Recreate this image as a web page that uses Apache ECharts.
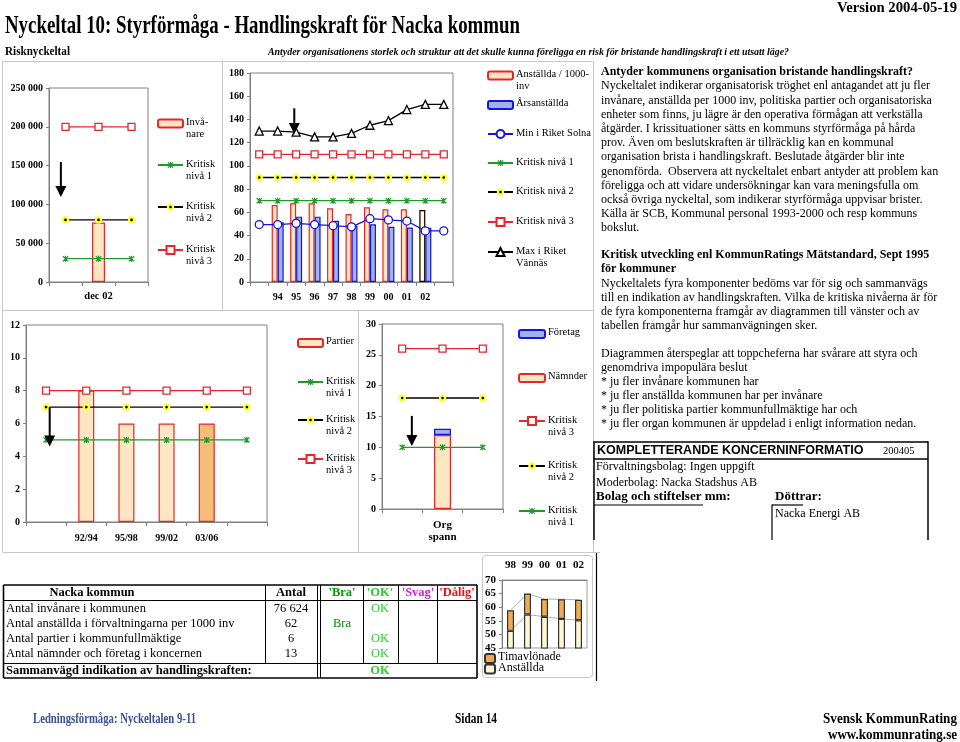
<!DOCTYPE html>
<html><head><meta charset="utf-8">
<script src="https://cdn.jsdelivr.net/npm/echarts@6/dist/echarts.min.js"></script>
<style>html,body{margin:0;padding:0;background:#fff}#c{width:960px;height:742px}</style>
</head><body><div id="c"></div>
<script>
// ================= DATA =================
// Chart 1: Invånare
const c1Categories = ['', 'dec 02', ''];
const c1Invanare = [null, 76624, null];
const c1Niva1 = [30000, 30000, 30000];
const c1Niva2 = [80000, 80000, 80000];
const c1Niva3 = [200000, 200000, 200000];
const c1Arrow = [0, 154600, 109500];

// Chart 2: Anställda per 1000 inv
const c2Categories = ['', '94', '95', '96', '97', '98', '99', '00', '01', '02', ''];
const c2Anst1000 = [null, 66.3, 67.8, 67.8, 63.5, 58.6, 64.3, 62.6, 62.6, 62, null];
const c2Arsanst = [null, 51.4, 56.3, 56.3, 52.8, 48.5, 49.7, 47.6, 47, 46.8, null];
const c2MinSolna = [49.5, 49.5, 50.5, 49.5, 48.5, 47.5, 54.5, 53.5, 52.5, 44, 44];
const c2MaxVannas = [130, 130, 129, 125, 125, 128, 135, 139, 148.5, 153, 153];
const c2Niva1 = [70, 70, 70, 70, 70, 70, 70, 70, 70, 70, 70];
const c2Niva2 = [90, 90, 90, 90, 90, 90, 90, 90, 90, 90, 90];
const c2Niva3 = [110, 110, 110, 110, 110, 110, 110, 110, 110, 110, 110];
const c2HighlightIndex = 9;
const c2Arrow = [2, 149.6, 127.5];

// Chart 3: Partier
const c3Categories = ['', '92/94', '95/98', '99/02', '03/06', ''];
const c3Partier = [null, 8, 6, 6, 6, null];
const c3Niva1 = [5, 5, 5, 5, 5, 5];
const c3Niva2 = [7, 7, 7, 7, 7, 7];
const c3Niva3 = [8, 8, 8, 8, 8, 8];
const c3HighlightIndex = 4;
const c3Arrow = [0, 7, 4.6];

// Chart 4: Org spann
const c4Categories = ['', 'Org\nspann', ''];
const c4Namnder = [null, 12, null];
const c4Foretag = [null, 1, null];
const c4Niva1 = [10, 10, 10];
const c4Niva2 = [18, 18, 18];
const c4Niva3 = [26, 26, 26];
const c4Arrow = [0, 15.1, 10.2];

// Chart 5: Anställda / Timavlönade
const c5Categories = ['98', '99', '00', '01', '02'];
const c5Anstallda = [51.3, 57.3, 56.5, 55.7, 55.2];
const c5Timavlonade = [7.6, 7.7, 6.5, 7.2, 7.5];

// Table
const tableHeader = ['Nacka kommun', 'Antal', "'Bra'", "'OK'", "'Svag'", "'Dålig'"];
const tableRows = [
  ['Antal invånare i kommunen', '76 624', 'OK'],
  ['Antal anställda i förvaltningarna per 1000 inv', '62', 'Bra'],
  ['Antal partier i kommunfullmäktige', '6', 'OK'],
  ['Antal nämnder och företag i koncernen', '13', 'OK']
];
const tableSummary = ['Sammanvägd indikation av handlingskraften:', 'OK'];

// Text
const textLines = [
  ['Antyder kommunens organisation bristande handlingskraft?', true],
  ['Nyckeltalet indikerar organisatorisk tröghet enl antagandet att ju fler', false],
  ['invånare, anställda per 1000 inv, politiska partier och organisatoriska', false],
  ['enheter som finns, ju lägre är den operativa förmågan att verkställa', false],
  ['åtgärder. I krissituationer sätts en kommuns styrförmåga på hårda', false],
  ['prov. Även om beslutskraften är tillräcklig kan en kommunal', false],
  ['organisation brista i handlingskraft. Beslutade åtgärder blir inte', false],
  ['genomförda.  Observera att nyckeltalet enbart antyder att problem kan', false],
  ['föreligga och att vidare undersökningar kan vara meningsfulla om', false],
  ['också övriga nyckeltal, som indikerar styrförmåga uppvisar brister.', false],
  ['Källa är SCB, Kommunal personal 1993-2000 och resp kommuns', false],
  ['bokslut.', false]
];
const textLines2 = [
  ['Kritisk utveckling enl KommunRatings Mätstandard, Sept 1995', true],
  ['för kommuner', true],
  ['Nyckeltalets fyra komponenter bedöms var för sig och sammanvägs', false],
  ['till en indikation av handlingskraften. Vilka de kritiska nivåerna är för', false],
  ['de fyra komponenterna framgår av diagrammen till vänster och av', false],
  ['tabellen framgår hur sammanvägningen sker.', false]
];
const textLines3 = [
  'Diagrammen återspeglar att toppcheferna har svårare att styra och',
  'genomdriva impopulära beslut',
  '* ju fler invånare kommunen har',
  '* ju fler anställda kommunen har per invånare',
  '* ju fler politiska partier kommunfullmäktige har och',
  '* ju fler organ kommunen är uppdelad i enligt information nedan.'
];

// ================= STYLE =================
const FONT = "'Liberation Serif', 'Times New Roman', serif";
const RED = '#e8262a', GREEN = '#1f9a2a', BLUE = '#1414dc', PEACH = '#fde6c2', ORANGE = '#f5bd78';
function svgUri(svg) { return 'image://data:image/svg+xml;charset=utf-8,' + encodeURIComponent(svg); }
const SYM_STAR = svgUri("<svg xmlns='http://www.w3.org/2000/svg' width='20' height='20' viewBox='0 0 20 20'><path d='M3.5 3.5L16.5 16.5M16.5 3.5L3.5 16.5M10 2.5V17.5' stroke='#1f9a2a' stroke-width='3' fill='none'/></svg>");
const SYM_YDOT = svgUri("<svg xmlns='http://www.w3.org/2000/svg' width='20' height='20' viewBox='0 0 20 20'><circle cx='10' cy='10' r='9.5' fill='#ffff3c'/><circle cx='10' cy='10' r='3.3' fill='#000'/></svg>");

const NIVA = {
  'Kritisk nivå 1': { symbol: SYM_STAR, color: GREEN, size: 8 },
  'Kritisk nivå 2': { symbol: SYM_YDOT, color: '#000', size: 8 },
  'Kritisk nivå 3': { symbol: 'rect', color: RED, size: 7, fill: '#fff' }
};

function lineS(name, idx, data, st) {
  return {
    type: 'line', name, xAxisIndex: idx, yAxisIndex: idx, data,
    symbol: st.symbol, symbolSize: st.size, showSymbol: true, showAllSymbol: true,
    lineStyle: { color: st.color, width: 1.3 },
    itemStyle: { color: st.fill || st.color, borderColor: st.color, borderWidth: 1.3 },
    emphasis: { disabled: true }, z: 3, silent: true
  };
}
function niva(level, idx, data) { return lineS('Kritisk nivå ' + level, idx, data, NIVA['Kritisk nivå ' + level]); }
function barS(name, idx, data, fill, border, extra) {
  return Object.assign({
    type: 'bar', name, xAxisIndex: idx, yAxisIndex: idx, data,
    itemStyle: { color: fill, borderColor: border, borderWidth: 1.2 },
    emphasis: { disabled: true }, silent: true, z: 2
  }, extra || {});
}
function arrowS(idx, arr, offFrac) {
  return {
    type: 'custom', xAxisIndex: idx, yAxisIndex: idx, silent: true, z: 6,
    data: [arr], encode: { x: 0, y: [1, 2] },
    renderItem(params, api) {
      const band = api.size([1, 0])[0];
      const p1 = api.coord([api.value(0), api.value(1)]);
      const p2 = api.coord([api.value(0), api.value(2)]);
      const x = p1[0] + offFrac * band;
      const hh = 11, hw = 5.5;
      return { type: 'group', children: [
        { type: 'line', shape: { x1: x, y1: p1[1], x2: x, y2: p2[1] - hh + 1 }, style: { stroke: '#000', lineWidth: 2 } },
        { type: 'polygon', shape: { points: [[x - hw, p2[1] - hh], [x + hw, p2[1] - hh], [x, p2[1]]] }, style: { fill: '#000' } }
      ] };
    }
  };
}
const labelFont = { fontFamily: FONT, fontWeight: 'bold', fontSize: 10, color: '#000' };
function catAxis(idx, data, extra) {
  return Object.assign({
    type: 'category', gridIndex: idx, data, boundaryGap: true,
    axisLine: { show: true, lineStyle: { color: '#808080' } },
    axisTick: { show: true, interval: 0, length: 4, lineStyle: { color: '#808080' } },
    axisLabel: Object.assign({ interval: 0, margin: 8 }, labelFont),
    splitLine: { show: false }
  }, extra || {});
}
function valAxis(idx, min, max, interval, extra) {
  return Object.assign({
    type: 'value', gridIndex: idx, min, max, interval,
    axisLine: { show: true, lineStyle: { color: '#808080' } },
    axisTick: { show: true, length: 3, lineStyle: { color: '#808080' } },
    axisLabel: Object.assign({ margin: 6 }, labelFont),
    splitLine: { show: false }
  }, extra || {});
}

// ================= GRAPHIC =================
const G = [];
const measureCtx = document.createElement('canvas').getContext('2d');
function fit(text, font, target) { measureCtx.font = font; return target / measureCtx.measureText(text).width; }
function txt(x, y, text, o) {
  o = o || {};
  const fs = o.fs || 12, fw = o.fw || 'normal', fst = o.fst || 'normal', ff = o.ff || FONT;
  let sx = 1;
  if (o.tw) sx = fit(text, fst + ' ' + fw + ' ' + fs + 'px ' + ff, o.tw);
  const style = { text, fontFamily: ff, fontSize: fs, fontWeight: fw, fontStyle: fst, fill: o.c || '#000', align: o.al || 'left', verticalAlign: 'middle' };
  if (o.lh) style.lineHeight = o.lh;
  if (o.w) { style.width = o.w; style.overflow = 'truncate'; style.ellipsis = ''; }
  G.push({ type: 'text', x, y, scaleX: sx, silent: true, z: 50, style });
}
function ln(x1, y1, x2, y2, c, w) {
  G.push({ type: 'line', silent: true, z: 40, shape: { x1, y1, x2, y2 }, style: { stroke: c || '#000', lineWidth: w || 1 } });
}

// Legend: icon from the legend component, label as text beside it
const legends = [];
function leg(name, label, left, cy, o) {
  o = o || {};
  const iw = o.iw || 25, ih = o.ih || 10, fs = o.fs || 10.5, lh = o.lh || 12;
  legends.push({
    show: true, data: [name], left, top: cy - ih / 2, orient: 'vertical',
    itemWidth: iw, itemHeight: ih, padding: 0, selectedMode: false,
    formatter: function () { return ''; }, textStyle: { fontSize: 1 }
  });
  label.split('\n').forEach((t, i) => txt(left + iw + 4, cy - 0.5 + i * lh, t, { fs }));
}

// Header / footer
txt(957, 8, 'Version 2004-05-19', { fs: 14, fw: 'bold', al: 'right', tw: 120 });
txt(5, 27, 'Nyckeltal 10: Styrförmåga - Handlingskraft för Nacka kommun', { fs: 25, fw: 'bold', tw: 515 });
txt(5, 52, 'Risknyckeltal', { fs: 13, fw: 'bold', tw: 65 });
txt(268, 52, 'Antyder organisationens storlek och struktur att det skulle kunna föreligga en risk för bristande handlingskraft i ett utsatt läge?', { fs: 11, fw: 'bold', fst: 'italic', tw: 521 });
txt(33, 719, 'Ledningsförmåga: Nyckeltalen 9-11', { fs: 14, fw: 'bold', c: '#3a4f95', tw: 163 });
txt(455, 719, 'Sidan 14', { fs: 14, fw: 'bold', tw: 42 });
txt(957, 719, 'Svensk KommunRating', { fs: 14, fw: 'bold', al: 'right', tw: 134 });
txt(957, 735, 'www.kommunrating.se', { fs: 14, fw: 'bold', al: 'right', tw: 129 });

// Panel separators (light gray)
const PG = '#c8c8c8';
ln(2.5, 61.5, 593.5, 61.5, PG); ln(2.5, 61.5, 2.5, 552.5, PG);
ln(222.5, 61.5, 222.5, 310.5, PG); ln(2.5, 310.5, 593.5, 310.5, PG);
ln(358.5, 310.5, 358.5, 552.5, PG); ln(2.5, 552.5, 600, 552.5, PG);
ln(593.5, 61.5, 593.5, 552.5, PG);
ln(596.5, 553, 596.5, 681, '#000', 1.2);
G.push({ type: 'rect', silent: true, z: 0, shape: { x: 482.5, y: 555.5, width: 110, height: 122, r: 3 }, style: { fill: 'none', stroke: '#c8c8c8', lineWidth: 1 } });

// Right text panel
textLines.forEach((l, i) => txt(601, 72 + i * 14.2, l[0], { fs: 12, fw: l[1] ? 'bold' : 'normal' }));
textLines2.forEach((l, i) => txt(601, 255 + i * 14.2, l[0], { fs: 12, fw: l[1] ? 'bold' : 'normal' }));
textLines3.forEach((l, i) => txt(601, 354 + i * 14, l, { fs: 12 }));

// Koncern box
ln(594, 442, 928, 442, '#000', 1.5); ln(594, 459, 928, 459, '#000', 1.5);
ln(594, 441.3, 594, 540, '#000', 1.5); ln(928, 441.3, 928, 540, '#000', 1.5);
ln(594, 505, 703, 505, '#000', 1.2);
ln(772, 505, 803, 505, '#000', 1.2); ln(772, 504.4, 772, 540, '#000', 1.2);
txt(597, 450.5, 'KOMPLETTERANDE KONCERNINFORMATION', { fs: 12.5, fw: 'bold', ff: "'Liberation Sans', Arial, sans-serif", w: 271 });
txt(883, 451, '200405', { fs: 10.5 });
txt(596, 467, 'Förvaltningsbolag: Ingen uppgift', { fs: 12 });
txt(596, 483, 'Moderbolag: Nacka Stadshus AB', { fs: 12 });
txt(596, 497, 'Bolag och stiftelser mm:', { fs: 13, fw: 'bold' });
txt(775, 497, 'Döttrar:', { fs: 13, fw: 'bold' });
txt(775, 514, 'Nacka Energi AB', { fs: 12 });

// Table
(function () {
  const L = 3.5, R = 477, T = 585, HB = 600.5, SB = 663.5, B = 678;
  const colX = [265.5, 317.5, 320.5, 363.5, 398.5, 437.5];
  ln(L, T, R, T, '#000', 1.6); ln(L, B, R, B, '#000', 1.6);
  ln(L, T, L, B, '#000', 1.6); ln(R, T, R, B, '#000', 1.6);
  ln(L, HB, R, HB, '#000', 1.2); ln(L, SB, R, SB, '#000', 1.2);
  ln(colX[0], T, colX[0], SB); ln(colX[1], T, colX[1], B); ln(colX[2], T, colX[2], B);
  ln(colX[3], T, colX[3], SB); ln(colX[4], T, colX[4], SB); ln(colX[5], T, colX[5], SB);
  const centers = [92, 291, 342, 380, 418, 457];
  const hdrColors = ['#000', '#000', '#00a000', '#2ecc2e', '#cc22cc', '#ee1111'];
  tableHeader.forEach((h, i) => txt(centers[i], 592.5, h, { fs: 12.5, fw: 'bold', al: 'center', c: hdrColors[i] }));
  const ratingCol = { 'Bra': 2, 'OK': 3, 'Svag': 4, 'Dålig': 5 };
  const ratingColor = { 'Bra': '#008f00', 'OK': '#2ecc2e', 'Svag': '#cc22cc', 'Dålig': '#ee1111' };
  tableRows.forEach((r, i) => {
    const y = 609 + i * 15;
    txt(6, y, r[0], { fs: 12.5 });
    txt(centers[1], y, r[1], { fs: 12.5, al: 'center' });
    txt(centers[ratingCol[r[2]]], y, r[2], { fs: 12.5, al: 'center', c: ratingColor[r[2]] });
  });
  txt(6, 671, tableSummary[0], { fs: 12.5, fw: 'bold' });
  txt(centers[ratingCol[tableSummary[1]]], 671, tableSummary[1], { fs: 12.5, fw: 'bold', al: 'center', c: ratingColor[tableSummary[1]] });
})();

// Legends
leg('Invånare', 'Invå-\nnare', 157, 122.5, { ih: 8 });
leg('Kritisk nivå 1', 'Kritisk\nnivå 1', 157, 165);
leg('Kritisk nivå 2', 'Kritisk\nnivå 2', 157, 207);
leg('Kritisk nivå 3', 'Kritisk\nnivå 3', 157, 250);

leg('Anställda / 1000-inv', 'Anställda / 1000-\ninv', 487, 74.5, { ih: 8 });
leg('Årsanställda', 'Årsanställda', 487, 104, { ih: 8 });
leg('Min i Riket Solna', 'Min i Riket Solna', 487, 134);
leg('Kritisk nivå 1', 'Kritisk nivå 1', 487, 163);
leg('Kritisk nivå 2', 'Kritisk nivå 2', 487, 192);
leg('Kritisk nivå 3', 'Kritisk nivå 3', 487, 222);
leg('Max i Riket Vännäs', 'Max i Riket\nVännäs', 487, 252);

leg('Partier', 'Partier', 297, 342, { ih: 8 });
leg('Kritisk nivå 1', 'Kritisk\nnivå 1', 297, 382);
leg('Kritisk nivå 2', 'Kritisk\nnivå 2', 297, 420);
leg('Kritisk nivå 3', 'Kritisk\nnivå 3', 297, 459);

leg('Företag', 'Företag', 518, 333, { ih: 8, iw: 26 });
leg('Nämnder', 'Nämnder', 518, 377, { ih: 8, iw: 26 });
leg('Kritisk nivå 3', 'Kritisk\nnivå 3', 518, 421, { iw: 26 });
leg('Kritisk nivå 2', 'Kritisk\nnivå 2', 518, 466, { iw: 26 });
leg('Kritisk nivå 1', 'Kritisk\nnivå 1', 518, 511, { iw: 26 });

leg('Timavlönade', 'Timavlönade', 484, 657.5, { iw: 10, ih: 9, fs: 12 });
leg('Anställda', 'Anställda', 484, 668, { iw: 10, ih: 9, fs: 12 });

// ================= OPTION =================
const gridBase = { show: true, borderColor: '#808080', borderWidth: 1, backgroundColor: '#fff', containLabel: false };
const option = {
  animation: false,
  backgroundColor: '#fff',
  grid: [
    Object.assign({ left: 49, top: 88, width: 99, height: 194 }, gridBase),
    Object.assign({ left: 250, top: 73, width: 203, height: 209 }, gridBase),
    Object.assign({ left: 26, top: 325, width: 241, height: 197 }, gridBase),
    Object.assign({ left: 382, top: 324, width: 121, height: 185 }, gridBase),
    Object.assign({ left: 502, top: 580, width: 85, height: 68 }, gridBase, { borderColor: '#a0a0a0' })
  ],
  xAxis: [
    catAxis(0, c1Categories, { axisLabel: Object.assign({ interval: 0, margin: 9 }, labelFont, { fontSize: 10.5 }) }),
    catAxis(1, c2Categories, { axisLabel: Object.assign({ interval: 0, margin: 10 }, labelFont) }),
    catAxis(2, c3Categories, { axisLabel: Object.assign({ interval: 0, margin: 11 }, labelFont) }),
    catAxis(3, c4Categories, { axisLabel: Object.assign({ interval: 0, margin: 10, lineHeight: 12 }, labelFont, { fontSize: 11 }) }),
    catAxis(4, c5Categories, { position: 'top', axisTick: { show: false }, axisLabel: Object.assign({ interval: 0, margin: 9 }, labelFont, { fontSize: 11 }) })
  ],
  yAxis: [
    valAxis(0, 0, 250000, 50000, { axisLabel: Object.assign({ margin: 6, formatter: v => v === 0 ? '0' : (v / 1000) + ' 000' }, labelFont) }),
    valAxis(1, 0, 180, 20),
    valAxis(2, 0, 12, 2),
    valAxis(3, 0, 30, 5),
    valAxis(4, 45, 70, 5, { axisLabel: Object.assign({ margin: 6 }, labelFont, { fontSize: 11 }) })
  ],
  legend: legends,
  series: [
    // Chart 1
    barS('Invånare', 0, c1Invanare, PEACH, RED, { barWidth: 13 }),
    niva(1, 0, c1Niva1), niva(2, 0, c1Niva2), niva(3, 0, c1Niva3),
    arrowS(0, c1Arrow, -0.14),
    // Chart 2
    barS('Anställda / 1000-inv', 1, c2Anst1000.map((v, i) => i === c2HighlightIndex ? { value: v, itemStyle: { color: '#fff7dc', borderColor: '#000' } } : v), PEACH, RED, { barWidth: 6, barGap: '0%' }),
    barS('Årsanställda', 1, c2Arsanst, '#9fb3ea', BLUE, { barWidth: 6, barGap: '0%' }),
    lineS('Min i Riket Solna', 1, c2MinSolna, { symbol: 'circle', size: 8, color: BLUE, fill: '#fff' }),
    niva(1, 1, c2Niva1), niva(2, 1, c2Niva2), niva(3, 1, c2Niva3),
    lineS('Max i Riket Vännäs', 1, c2MaxVannas, { symbol: 'triangle', size: 8, color: '#000', fill: '#fff' }),
    arrowS(1, c2Arrow, -0.1),
    // Chart 3
    barS('Partier', 2, c3Partier.map((v, i) => i === c3HighlightIndex ? { value: v, itemStyle: { color: ORANGE } } : v), PEACH, RED, { barWidth: 16 }),
    niva(1, 2, c3Niva1), niva(2, 2, c3Niva2), niva(3, 2, c3Niva3),
    arrowS(2, c3Arrow, 0.09),
    // Chart 4
    barS('Nämnder', 3, c4Namnder, PEACH, RED, { barWidth: 17, stack: 'org' }),
    barS('Företag', 3, c4Foretag, '#9fb3ea', BLUE, { barWidth: 17, stack: 'org' }),
    niva(1, 3, c4Niva1), niva(2, 3, c4Niva2), niva(3, 3, c4Niva3),
    arrowS(3, c4Arrow, 0.24),
    // Chart 5
    { type: 'line', xAxisIndex: 4, yAxisIndex: 4, data: c5Anstallda, stack: 'sl', symbol: 'none', lineStyle: { color: '#9a9a9a', width: 0.8 }, z: 1, silent: true },
    { type: 'line', xAxisIndex: 4, yAxisIndex: 4, data: c5Timavlonade, stack: 'sl', symbol: 'none', lineStyle: { color: '#9a9a9a', width: 0.8 }, z: 1, silent: true },
    barS('Anställda', 4, c5Anstallda, '#fff6d4', '#333', { barWidth: 7, stack: 'c5', z: 3 }),
    barS('Timavlönade', 4, c5Timavlonade, '#eeaa55', '#333', { barWidth: 7, stack: 'c5', z: 3 })
  ],
  graphic: G
};
const chart = echarts.init(document.getElementById('c'), null, { renderer: 'canvas' });
chart.setOption(option);
</script>
</body></html>
